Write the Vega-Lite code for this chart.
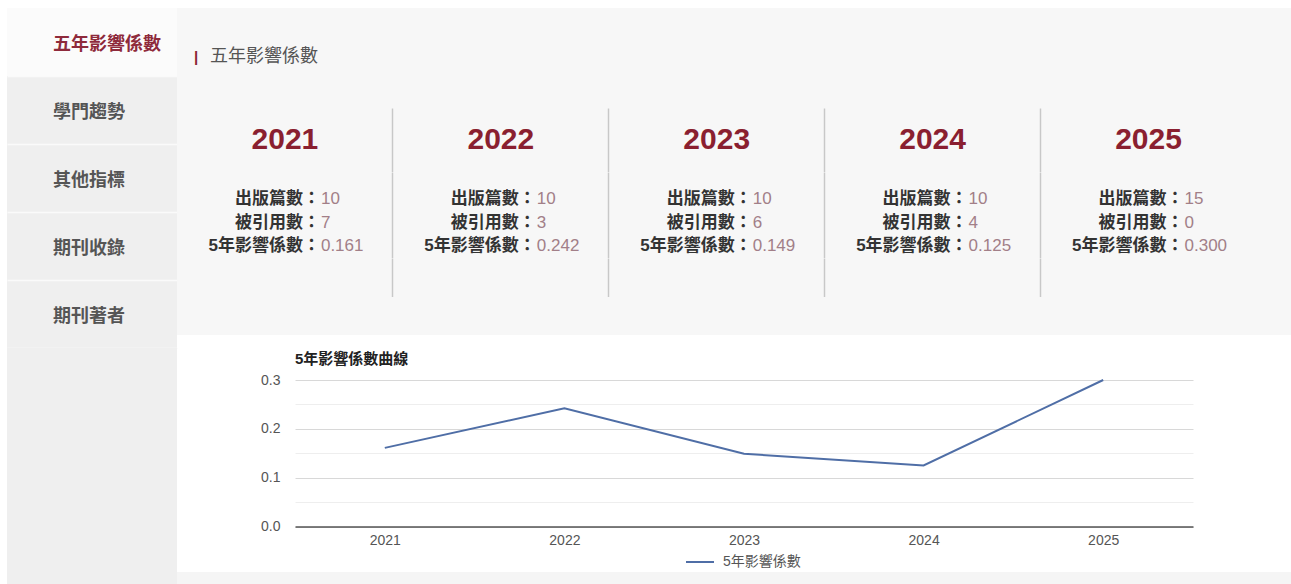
{
  "$schema": "https://vega.github.io/schema/vega-lite/v6.json",
  "background": "#ffffff",
  "padding": {"left": 7, "top": 8, "right": 0, "bottom": 0},
  "config": {
    "view": {"stroke": null},
    "font": "Liberation Sans, Noto Sans CJK TC, sans-serif"
  },
  "datasets": {
    "menu": [
      {"item": "五年影響係數"},
      {"item": "學門趨勢"},
      {"item": "其他指標"},
      {"item": "期刊收錄"},
      {"item": "期刊著者"}
    ],
    "cards": [
      {"年份": "2021", "出版篇數：": "10", "被引用數：": "7", "5年影響係數：": "0.161"},
      {"年份": "2022", "出版篇數：": "10", "被引用數：": "3", "5年影響係數：": "0.242"},
      {"年份": "2023", "出版篇數：": "10", "被引用數：": "6", "5年影響係數：": "0.149"},
      {"年份": "2024", "出版篇數：": "10", "被引用數：": "4", "5年影響係數：": "0.125"},
      {"年份": "2025", "出版篇數：": "15", "被引用數：": "0", "5年影響係數：": "0.300"}
    ],
    "curve": [
      {"year": "2021", "value": 0.161},
      {"year": "2022", "value": 0.242},
      {"year": "2023", "value": 0.149},
      {"year": "2024", "value": 0.125},
      {"year": "2025", "value": 0.3}
    ]
  },
  "hconcat": [
    {
      "vconcat": [
        {
          "width": 170,
          "height": 340,
          "view": {"fill": "#efefef"},
          "data": {"name": "menu"},
          "encoding": {
            "y": {"field": "item", "type": "nominal", "sort": null,
              "scale": {"type": "band", "paddingInner": 0, "paddingOuter": 0},
              "axis": {"title": null, "labels": false, "ticks": false, "domain": false, "grid": true, "bandPosition": 1, "gridColor": "#fafafa", "gridWidth": 1.5}}
          },
          "layer": [
            {
              "mark": {"type": "rect"},
              "encoding": {
                "fill": {"condition": {"test": "datum.item === '五年影響係數'", "value": "#fbfbfb"}, "value": "#efefef"}
              }
            },
            {
              "mark": {"type": "text", "align": "left", "dx": -39, "dy": 3, "fontSize": 18, "fontWeight": "bold", "baseline": "middle"},
              "encoding": {
                "text": {"field": "item"},
                "color": {"condition": {"test": "datum.item === '五年影響係數'", "value": "#8e2a3b"}, "value": "#555555"}
              }
            }
          ]
        },
        {
          "width": 170,
          "height": 236,
          "view": {"fill": "#efefef"},
          "data": {"values": [{}]},
          "mark": {"type": "rect", "opacity": 0},
          "encoding": {}
        }
      ],
      "spacing": 0,
      "bounds": "flush"
    },
    {
      "vconcat": [
        {
          "vconcat": [
            {
              "width": 1114, "height": 58,
              "view": {"fill": "#f7f7f7"},
              "data": {"values": [{}]},
              "mark": {"type": "rect", "opacity": 0},
              "encoding": {}
            },
            {
              "width": 1114, "height": 42,
              "view": {"fill": "#f7f7f7"},
              "title": {"text": "|", "anchor": "start", "frame": "group", "dx": 17, "offset": 1, "fontSize": 15, "fontWeight": "bold", "color": "#8b2332"},
              "data": {"values": [{}]},
              "mark": {"type": "rect", "opacity": 0},
              "encoding": {}
            },
            {
              "width": 1114, "height": 64,
              "view": {"fill": "#f7f7f7"},
              "title": {"text": "五年影響係數", "anchor": "start", "frame": "group", "dx": 33, "offset": 42, "fontSize": 18, "fontWeight": "normal", "color": "#555555"},
              "data": {"name": "cards"},
              "mark": {"type": "text", "fontSize": 30, "fontWeight": "bold", "color": "#8a1f30", "baseline": "middle", "font": "Liberation Sans"},
              "encoding": {
                "x": {"field": "年份", "type": "nominal", "sort": null,
                  "scale": {"type": "band", "paddingInner": 0, "paddingOuter": 0.08, "align": 0},
                  "axis": {"orient": "bottom", "grid": true, "bandPosition": 1, "labels": false, "ticks": false, "domain": false, "title": null,
                    "gridColor": "#c8c8c8", "gridWidth": 1.5,
                    "gridOpacity": {"condition": {"test": "datum.value === '2025'", "value": 0}, "value": 1}}},
                "text": {"field": "年份"}
              }
            },
            {
              "width": 1114, "height": 86,
              "view": {"fill": "#f7f7f7"},
              "data": {"name": "cards"},
              "transform": [{"fold": ["出版篇數：", "被引用數：", "5年影響係數："], "as": ["key", "val"]}],
              "encoding": {
                "x": {"field": "年份", "type": "nominal", "sort": null,
                  "scale": {"type": "band", "paddingInner": 0, "paddingOuter": 0.08, "align": 0},
                  "axis": {"orient": "bottom", "grid": true, "bandPosition": 1, "labels": false, "ticks": false, "domain": false, "title": null,
                    "gridColor": "#c8c8c8", "gridWidth": 1.5,
                    "gridOpacity": {"condition": {"test": "datum.value === '2025'", "value": 0}, "value": 1}}},
                "y": {"field": "key", "type": "nominal",
                  "scale": {"type": "band", "domain": ["出版篇數：", "被引用數：", "5年影響係數："], "paddingInner": 0, "paddingOuter": 0.33, "align": 1},
                  "axis": null}
              },
              "layer": [
                {
                  "mark": {"type": "text", "align": "right", "dx": 35, "fontSize": 17, "fontWeight": "bold", "color": "#333333", "baseline": "middle"},
                  "encoding": {"text": {"field": "key"}}
                },
                {
                  "mark": {"type": "text", "align": "left", "dx": 36, "fontSize": 17, "color": "#a27f88", "baseline": "middle"},
                  "encoding": {"text": {"field": "val"}}
                }
              ]
            },
            {
              "width": 1114, "height": 39,
              "view": {"fill": "#f7f7f7"},
              "data": {"name": "cards"},
              "mark": {"type": "rect", "opacity": 0},
              "encoding": {
                "x": {"field": "年份", "type": "nominal", "sort": null,
                  "scale": {"type": "band", "paddingInner": 0, "paddingOuter": 0.08, "align": 0},
                  "axis": {"orient": "bottom", "grid": true, "bandPosition": 1, "labels": false, "ticks": false, "domain": false, "title": null,
                    "gridColor": "#c8c8c8", "gridWidth": 1.5,
                    "gridOpacity": {"condition": {"test": "datum.value === '2025'", "value": 0}, "value": 1}}}
              }
            },
            {
              "width": 1114, "height": 38,
              "view": {"fill": "#f7f7f7"},
              "data": {"values": [{}]},
              "mark": {"type": "rect", "opacity": 0},
              "encoding": {}
            }
          ],
          "spacing": 0,
          "bounds": "flush"
        },
        {
          "width": 1114, "height": 16,
          "data": {"values": [{}]},
          "mark": {"type": "rect", "opacity": 0},
          "encoding": {}
        },
        {
          "hconcat": [
            {
              "width": 118, "height": 192,
              "data": {"values": [{}]},
              "mark": {"type": "rect", "opacity": 0},
              "encoding": {}
            },
            {
              "width": 898, "height": 146.5,
              "title": {"text": "5年影響係數曲線", "anchor": "start", "frame": "group", "fontSize": 15, "fontWeight": "bold", "color": "#222222", "offset": 6.5},
              "data": {"name": "curve"},
              "mark": {"type": "line", "strokeWidth": 2},
              "encoding": {
                "x": {"field": "year", "type": "ordinal", "sort": null,
                  "scale": {"type": "point", "padding": 0.5},
                  "axis": {"title": null, "labelAngle": 0, "ticks": false, "domainColor": "#555555", "domainWidth": 1.5,
                    "labelFontSize": 14, "labelColor": "#555555", "labelPadding": 7, "grid": false}},
                "y": {"field": "value", "type": "quantitative",
                  "scale": {"domain": [0, 0.3], "nice": false},
                  "axis": {"title": null, "values": [0, 0.05, 0.1, 0.15, 0.2, 0.25, 0.3],
                    "labelExpr": "round(datum.value*20) % 2 === 0 ? format(datum.value, '.1f') : ''",
                    "ticks": false, "domain": false, "labelPadding": 15, "labelFontSize": 14, "labelColor": "#555555",
                    "gridColor": {"condition": {"test": "round(datum.value*20) % 2 === 1", "value": "#eeeeee"}, "value": "#d8d8d8"}}},
                "color": {"datum": "5年影響係數",
                  "scale": {"range": ["#4f6ea6"]},
                  "legend": {"orient": "none", "legendX": 390, "legendY": 167, "direction": "horizontal", "title": null,
                    "symbolType": "stroke", "symbolSize": 784, "symbolStrokeWidth": 2,
                    "labelFontSize": 14, "labelColor": "#555555", "labelOffset": 8, "padding": 0}}
              }
            }
          ],
          "spacing": 0,
          "bounds": "flush",
          "resolve": {"scale": {"color": "independent"}, "legend": {"color": "independent"}}
        },
        {
          "width": 1114, "height": 12,
          "view": {"fill": "#f5f5f5"},
          "data": {"values": [{}]},
          "mark": {"type": "rect", "opacity": 0},
          "encoding": {}
        }
      ],
      "spacing": 0,
      "bounds": "full",
      "resolve": {"scale": {"color": "independent"}, "legend": {"color": "independent"}}
    }
  ],
  "spacing": 0,
  "bounds": "full",
  "resolve": {"scale": {"color": "independent"}, "legend": {"color": "independent"}}
}
